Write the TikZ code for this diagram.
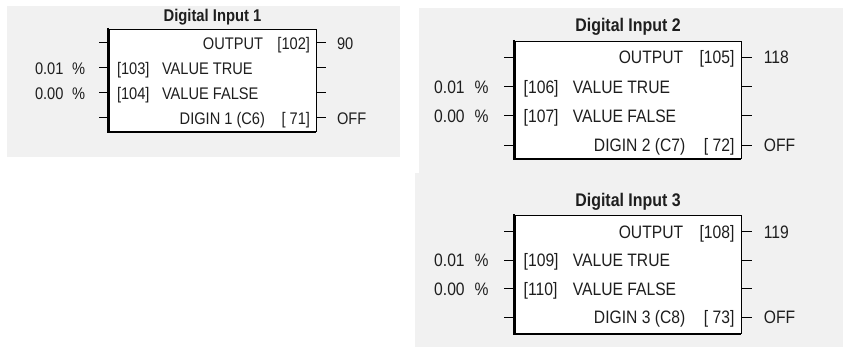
\documentclass[tikz,border=0pt]{standalone}
\usepackage{fontspec}
\setmainfont{Liberation Sans}[FakeStretch=0.87]
\definecolor{panelgray}{HTML}{F1F1F1}
\definecolor{txtc}{HTML}{1E1E1E}
\tikzset{
  txt/.style={inner sep=0pt, outer sep=0pt, text=txtc, font=\fontsize{\Fs}{\Fs}\selectfont},
  ttl/.style={inner sep=0pt, outer sep=0pt, text=txtc, font=\fontsize{\Ft}{\Ft}\selectfont\bfseries, anchor=base},
  blockbox/.style={draw=black, line width=0.9pt, fill=white, inner sep=0pt, outer sep=0pt},
  stub/.style={draw=black, line width=1pt},
  shadowline/.style={draw=black, line width=1.3pt},
  panel/.style={fill=panelgray, draw=none}
}
% #1 prefix, #2 number, #3 L, #4 R, #5 T, #6 B, #7 title y, #8 first row y, #9 row step
\newcommand\DIpanel[9]{%
  \pgfmathsetmacro\sc{(#4-#3)/207}%
  \pgfmathsetmacro\bo{0.358*\Fs}%
  \pgfmathsetmacro\tbo{0.358*\Ft}%
  \pgfmathsetmacro\ra{#8}%
  \pgfmathsetmacro\rb{#8+#9}%
  \pgfmathsetmacro\rc{#8+2*#9}%
  \pgfmathsetmacro\rd{#8+3*#9}%
  \draw[shadowline] ({#3-0.9},{#5-1}) -- ({#3-0.9},{#6+0.9}) -- (#4,{#6+0.9});
  \node[blockbox, minimum width={(#4-#3)*1pt}, minimum height={(#6-#5)*1pt}] (#1box) at ({(#3+#4)/2},{(#5+#6)/2}) {};
  \node[ttl] (#1title) at ({(#3+#4)/2},{#7+\tbo}) {Digital Input #2};
  % stubs
  \foreach \r/\k in {\ra/a,\rb/b,\rc/c,\rd/d}{
    \coordinate (#1l\k) at ({#3-10*\sc},\r);
    \coordinate (#1r\k) at ({#4+10*\sc},\r);
    \draw[stub] (#1l\k) -- (#1l\k -| #1box.west);
    \draw[stub] (#1box.east |- #1r\k) -- (#1r\k);
  }
  % inside texts
  \node[txt, anchor=base east] (#1out) at ({#4-53*\sc},{\ra+\bo}) {OUTPUT};
  \node[txt, anchor=base east] (#1pa) at ({#4-6*\sc},{\ra+\bo}) {\Pa};
  \node[txt, anchor=base west] (#1pb) at ({#3+8*\sc},{\rb+\bo}) {\Pb};
  \node[txt, anchor=base west] (#1vt) at ({#3+53*\sc},{\rb+\bo}) {VALUE TRUE};
  \node[txt, anchor=base west] (#1pc) at ({#3+8*\sc},{\rc+\bo}) {\Pc};
  \node[txt, anchor=base west] (#1vf) at ({#3+53*\sc},{\rc+\bo}) {VALUE FALSE};
  \node[txt, anchor=base east] (#1dg) at ({#4-51*\sc},{\rd+\bo}) {\Dg};
  \node[txt, anchor=base east] (#1pd) at ({#4-6*\sc},{\rd+\bo}) {\Pd};
  % outside values
  \node[txt, anchor=base west] (#1ov) at ({#4+21*\sc},{\ra+\bo}) {\Ov};
  \node[txt, anchor=base west] (#1off) at ({#4+21*\sc},{\rd+\bo}) {OFF};
  \node[txt, anchor=base west] (#1tv) at ({#3-74*\sc},{\rb+\bo}) {0.01};
  \node[txt, anchor=base west] (#1tp) at ({#3-37*\sc},{\rb+\bo}) {\%};
  \node[txt, anchor=base west] (#1fv) at ({#3-74*\sc},{\rc+\bo}) {0.00};
  \node[txt, anchor=base west] (#1fp) at ({#3-37*\sc},{\rc+\bo}) {\%};
}
\begin{document}
\begin{tikzpicture}[x=1pt,y=-1pt]
  \useasboundingbox (0,0) rectangle (843,347);
  \fill[white] (0,0) rectangle (843,347);
  \fill[panel] (7,6) rectangle (400,157);
  \fill[panel] (419,8) rectangle (843,173);
  \fill[panel] (415,173) rectangle (843,347);
  % Panel 1
  \def\Fs{16.8}\def\Ft{17}%
  \def\Pa{[102]}\def\Pb{[103]}\def\Pc{[104]}\def\Pd{[ 71]}\def\Dg{DIGIN 1 (C6)}\def\Ov{90}%
  \DIpanel{a}{1}{109}{316}{29}{131}{15}{43}{25}
  % Panel 2
  \def\Fs{18}\def\Ft{18.3}%
  \def\Pa{[105]}\def\Pb{[106]}\def\Pc{[107]}\def\Pd{[ 72]}\def\Dg{DIGIN 2 (C7)}\def\Ov{118}%
  \DIpanel{b}{2}{515}{741}{41}{158}{25}{57.5}{29.2}
  % Panel 3
  \def\Pa{[108]}\def\Pb{[109]}\def\Pc{[110]}\def\Pd{[ 73]}\def\Dg{DIGIN 3 (C8)}\def\Ov{119}%
  \DIpanel{c}{3}{515}{741}{215}{333}{200}{232}{28.4}
\end{tikzpicture}
\end{document}
